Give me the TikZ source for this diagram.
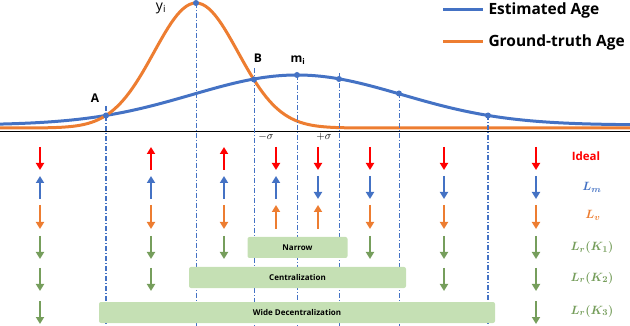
\documentclass[tikz,border=0pt]{standalone}
\usepackage{fontspec}
\setmainfont{Open Sans}
\usepackage{bm}
\usetikzlibrary{arrows.meta}

\definecolor{estblue}{HTML}{4472C4}
\definecolor{gtorange}{HTML}{ED7D31}
\definecolor{idealred}{HTML}{FF0000}
\definecolor{lossgreen}{HTML}{769E5C}
\definecolor{boxgreen}{HTML}{C5E0B4}

\begin{document}
\begin{tikzpicture}[
    x=1pt, y=-1pt,
    curve/.style={line width=3pt},
    dot/.style={circle, fill=estblue, inner sep=0pt, minimum size=6pt},
    guide/.style={estblue, line width=0.7pt, dash pattern=on 5pt off 2pt on 1pt off 2pt},
    guidethick/.style={guide, line width=1.5pt},
    tag/.style={font=\bfseries\fontsize{12}{12}\selectfont},
    bar/.style={line width=2.6pt},
    dn/.style={-{Triangle[width=8pt,length=7pt]}},
    upw/.style={{Triangle[width=8pt,length=7pt]}-},
    region/.style={rectangle, rounded corners=2pt, fill=boxgreen, minimum height=21pt,
                   inner sep=0pt, font=\bfseries\fontsize{8}{8}\selectfont},
    legend/.style={anchor=west, inner sep=0pt, font=\bfseries\fontsize{15.5}{15.5}\selectfont},
    rowlabel/.style={inner sep=0pt, font=\fontsize{13}{13}\selectfont}
]
\useasboundingbox (0,0) rectangle (630,326);
\coordinate (bot) at (0,326);

% Axis
\draw[line width=1pt] (0,132) -- (630,132);

% Curves
\draw[curve, estblue, domain=0:630, samples=160]
    plot (\x, {125-50*exp(-0.5*((\x-297)/105)^2)});
\draw[curve, gtorange, domain=0:630, samples=200]
    plot (\x, {128-125*exp(-min(0.5*((\x-196)/42)^2, 9))});

% Points on the curves
\node[dot] (A)  at (106,115.5) {};
\node[dot] (yi) at (196,3)     {};
\node[dot] (B)  at (254,79.5)  {};
\node[dot] (mi) at (297,75)    {};
\node[dot] (p5) at (339,79)    {};
\node[dot] (p6) at (399,93.5)  {};
\node[dot] (p7) at (488,115.5) {};

% Guides
\draw[guidethick] ([yshift=9.5pt]A.center) -- (A |- bot);
\draw[guide] (yi.center) -- (yi |- bot);
\draw[guide] ([yshift=11.5pt]B.center) -- (B |- bot);
\draw[guide, line width=1pt] (mi.center) -- (mi |- bot);
\draw[guide] ([yshift=6pt]p5.center) -- (p5 |- bot);
\draw[guide] (p6.center) -- (p6 |- bot);
\draw[guidethick] (p7.center) -- (p7 |- bot);

% Point labels
\node[tag] (lA)  at (95,98)  {A};
\node[tag] (lB)  at (258,58) {B};
\node[font=\fontsize{14}{14}\selectfont] (lyi) at (161,8) {$\mathrm{y}_{\mathrm{i}}$};
\node[tag] (lmi) at (298,60) {m\textsubscript{i}};
\node[font=\fontsize{11}{11}\selectfont] (lms) at (266,137) {$-\sigma$};
\node[font=\fontsize{11}{11}\selectfont] (lps) at (324,137) {$+\sigma$};

% Legend
\coordinate (le1) at (443,10);
\coordinate (le2) at (443,42);
\draw[curve, estblue]  (le1) -- ++(40,0) node[legend, black, xshift=4pt] (lest) {Estimated Age};
\draw[curve, gtorange] (le2) -- ++(40,0) node[legend, black, xshift=4pt] (lgt) {Ground-truth Age};

% Ideal
\foreach \x/\d in {40/dn,151/upw,224/upw,276/dn,318/dn,370/dn,444/dn,536/dn}
    \draw[bar, idealred, \d] (\x,147) -- (\x,170);
% L_m
\foreach \x/\d in {40/upw,151/upw,224/upw,276/upw,318/dn,370/dn,444/dn,536/dn}
    \draw[bar, estblue, \d] (\x,176) -- (\x,199);
% L_v
\foreach \x/\d in {40/dn,151/dn,224/dn,276/upw,318/upw,370/dn,444/dn,536/dn}
    \draw[bar, gtorange, \d] (\x,205) -- (\x,229);
% L_r(K_1), L_r(K_2), L_r(K_3)
\foreach \x in {40,151,224,370,444,536}
    \draw[bar, lossgreen, dn] (\x,236) -- (\x,259);
\foreach \x in {40,151,444,536}
    \draw[bar, lossgreen, dn] (\x,268) -- (\x,291);
\foreach \x in {40,536}
    \draw[bar, lossgreen, dn] (\x,301) -- (\x,324);

% Regions
\node[region, minimum width=100pt] (narrow) at (297.5,247.5) {Narrow};
\node[region, minimum width=217pt] (central) at (297.5,277.5) {Centralization};
\node[region, minimum width=396pt] (wide) at (297,312.5) {Wide Decentralization};

% Row labels
\node[rowlabel, idealred, font=\bfseries\fontsize{11.5}{11.5}\selectfont] (rideal) at (586,156) {Ideal};
\node[rowlabel, estblue]   (rlm)  at (592,187) {$\bm{L_m}$};
\node[rowlabel, gtorange]  (rlv)  at (593,215) {$\bm{L_v}$};
\node[rowlabel, lossgreen] (rk1)  at (592,248) {$\bm{L_r(K_1)}$};
\node[rowlabel, lossgreen] (rk2)  at (592,278) {$\bm{L_r(K_2)}$};
\node[rowlabel, lossgreen] (rk3)  at (592,311) {$\bm{L_r(K_3)}$};

\end{tikzpicture}
\end{document}
